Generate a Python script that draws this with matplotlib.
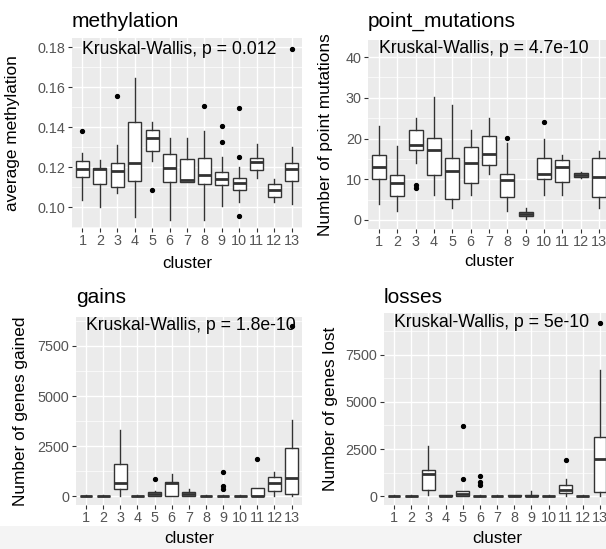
import numpy as np
import matplotlib
matplotlib.use("Agg")
import matplotlib.pyplot as plt
from matplotlib.patches import Rectangle

plt.rcParams['font.family'] = ['Liberation Sans', 'DejaVu Sans']

clusters = [str(i) for i in range(1, 14)]

# ---- methylation (box stats) ----
meth_whislo = [0.1037, 0.1003, 0.1070, 0.0953, 0.1232, 0.0937, 0.1125, 0.0937, 0.1007, 0.1028, 0.1145, 0.1028, 0.1017]
meth_q1     = [0.1153, 0.1115, 0.1103, 0.1133, 0.1282, 0.1128, 0.1125, 0.1117, 0.1112, 0.1087, 0.1187, 0.1052, 0.1133]
meth_med    = [0.1190, 0.1190, 0.1183, 0.1223, 0.1348, 0.1195, 0.1135, 0.1162, 0.1142, 0.1120, 0.1228, 0.1087, 0.1192]
meth_q3     = [0.1232, 0.1198, 0.1223, 0.1425, 0.1388, 0.1268, 0.1242, 0.1248, 0.1178, 0.1145, 0.1248, 0.1115, 0.1220]
meth_whishi = [0.1270, 0.1235, 0.1312, 0.1645, 0.1428, 0.1345, 0.1345, 0.1383, 0.1253, 0.1203, 0.1317, 0.1142, 0.1303]
meth_fliers = [[0.1382], [], [0.1558], [], [0.1085], [], [], [0.1507], [0.1408, 0.1328],
               [0.1495, 0.1250, 0.0958], [], [], [0.1790]]

# ---- point mutations ----
pm_whislo = [4.0, 2.2, 14.1, 6.1, 3.0, 6.1, 11.2, 2.2, 0.2, 6.1, 6.1, 10.3, 3.0]
pm_q1     = [10.0, 5.9, 17.1, 11.1, 5.2, 9.0, 13.5, 5.7, 1.0, 10.0, 9.4, 10.6, 5.7]
pm_med    = [13.1, 9.0, 18.3, 17.1, 12.0, 14.1, 16.1, 9.8, 1.4, 11.2, 13.1, 11.1, 10.6]
pm_q3     = [15.9, 11.1, 22.1, 20.1, 15.1, 18.0, 20.7, 11.4, 2.0, 15.1, 14.7, 11.5, 15.1]
pm_whishi = [23.1, 18.2, 25.0, 30.1, 28.2, 22.0, 25.0, 19.0, 2.9, 20.0, 16.0, 11.9, 17.0]
pm_fliers = [[], [], [8.6, 7.8], [], [], [], [], [20.2], [], [24.1], [], [], []]

# ---- gains ----
gain_whislo = [0, 0, 0, 0, 0, 0, 0, 0, 0, 0, 0, 33, 0]
gain_q1     = [0, 0, 367, 0, 0, 0, 0, 0, 0, 0, 0, 283, 133]
gain_med    = [5, 5, 650, 5, 117, 680, 100, 5, 10, 5, 33, 650, 917]
gain_q3     = [30, 30, 1600, 30, 200, 720, 217, 30, 40, 30, 400, 983, 2400]
gain_whishi = [60, 60, 3317, 60, 283, 1117, 350, 60, 80, 60, 400, 1233, 3817]
gain_fliers = [[], [], [], [], [867], [], [], [], [1200, 520, 380], [], [1867], [], [8500]]

# ---- losses ----
loss_whislo = [0, 0, 53, 0, 35, 0, 0, 0, 0, 0, 35, 0, 35]
loss_q1     = [0, 0, 319, 0, 35, 0, 0, 0, 0, 0, 177, 0, 230]
loss_med    = [5, 5, 1188, 10, 106, 20, 5, 10, 20, 5, 319, 10, 1950]
loss_q3     = [30, 30, 1365, 50, 284, 40, 30, 50, 60, 30, 620, 40, 3156]
loss_whishi = [60, 60, 2660, 80, 284, 80, 60, 80, 300, 60, 922, 80, 6684]
loss_fliers = [[], [], [], [], [3705, 922], [1064, 762, 620], [], [], [], [], [1897], [], [9190]]

titles = ["methylation", "point_mutations", "gains", "losses"]
ylabels = ["average methylation", "Number of point mutations",
           "Number of genes gained", "Number of genes lost"]
pvals = ["Kruskal-Wallis, p = 0.012", "Kruskal-Wallis, p = 4.7e-10",
         "Kruskal-Wallis, p = 1.8e-10", "Kruskal-Wallis, p = 5e-10"]
label_y = [0.179, 42, 8500, 9190]

meth_ticks = [0.10, 0.12, 0.14, 0.16, 0.18]
meth_ticklabels = ["0.10", "0.12", "0.14", "0.16", "0.18"]
pm_ticks = [0, 10, 20, 30, 40]
gene_ticks = [0, 2500, 5000, 7500]


def make_stats(lo, q1, med, q3, hi, fl):
    return [dict(whislo=a, q1=b, med=c, q3=d, whishi=e, fliers=f)
            for a, b, c, d, e, f in zip(lo, q1, med, q3, hi, fl)]


panels = [
    dict(stats=make_stats(meth_whislo, meth_q1, meth_med, meth_q3, meth_whishi, meth_fliers),
         ticks=meth_ticks, ticklabels=meth_ticklabels, ylim=(0.0896, 0.1846),
         rect=[72 / 606, 1 - 228 / 549, 230 / 606, 190 / 549],
         ylab_x=-0.225, title_y=1.059, xlab_y=-0.145),
    dict(stats=make_stats(pm_whislo, pm_q1, pm_med, pm_q3, pm_whishi, pm_fliers),
         ticks=pm_ticks, ticklabels=[str(t) for t in pm_ticks], ylim=(-2.1, 44.2),
         rect=[368 / 606, 1 - 228.5 / 549, 242 / 606, 188.5 / 549],
         ylab_x=-0.145, title_y=1.071, xlab_y=-0.135),
    dict(stats=make_stats(gain_whislo, gain_q1, gain_med, gain_q3, gain_whishi, gain_fliers),
         ticks=gene_ticks, ticklabels=[str(t) for t in gene_ticks], ylim=(-430, 8940),
         rect=[75.7 / 606, 1 - 505 / 549, 226.2 / 606, 188 / 549],
         ylab_x=-0.211, title_y=1.073, xlab_y=-0.138),
    dict(stats=make_stats(loss_whislo, loss_q1, loss_med, loss_q3, loss_whishi, loss_fliers),
         ticks=gene_ticks, ticklabels=[str(t) for t in gene_ticks], ylim=(-460, 9680),
         rect=[383.7 / 606, 1 - 505 / 549, 226.6 / 606, 191.7 / 549],
         ylab_x=-0.202, title_y=1.052, xlab_y=-0.136),
]

fig = plt.figure(figsize=(6.06, 5.49), dpi=100)
# faint grey band at the very bottom of the screenshot
fig.patches.append(Rectangle((0, 0), 1, 1 - 526 / 549, transform=fig.transFigure,
                             facecolor="#f4f4f4", edgecolor="none", zorder=-1))

box_col = "#333333"
for i, p in enumerate(panels):
    ax = fig.add_axes(p["rect"])
    ax.set_facecolor("#EBEBEB")
    for s in ax.spines.values():
        s.set_visible(False)

    ax.bxp(p["stats"], positions=range(1, 14), widths=0.75, patch_artist=True,
           boxprops=dict(facecolor="white", edgecolor=box_col, linewidth=1.0),
           medianprops=dict(color=box_col, linewidth=2.0),
           whiskerprops=dict(color=box_col, linewidth=1.0),
           capprops=dict(linewidth=0),
           flierprops=dict(marker="o", markersize=2.8, markerfacecolor="black",
                           markeredgecolor="black"),
           showcaps=False, zorder=3)

    ax.set_xlim(0.4, 13.6)
    ax.set_ylim(*p["ylim"])
    ax.set_xticks(range(1, 14))
    ax.set_xticklabels(clusters)
    ax.set_yticks(p["ticks"])
    ax.set_yticklabels(p["ticklabels"])
    t = p["ticks"]
    step = t[1] - t[0]
    minors = [v + step / 2 for v in [t[0] - step] + list(t)]
    minors = [m for m in minors if p["ylim"][0] < m < p["ylim"][1]]
    ax.set_yticks(minors, minor=True)

    ax.grid(which="major", color="white", linewidth=1.0, zorder=0)
    ax.grid(which="minor", axis="y", color="white", linewidth=0.5, zorder=0)
    ax.set_axisbelow(True)
    ax.tick_params(which="major", length=3, width=0.8, color="#333333",
                   labelcolor="#555555", labelsize=10.4, pad=1.5)
    ax.tick_params(which="minor", length=0)

    ax.set_xlabel("cluster", fontsize=12.2)
    ax.xaxis.set_label_coords(0.5, p["xlab_y"])
    ax.set_ylabel(ylabels[i], fontsize=12.4)
    ax.yaxis.set_label_coords(p["ylab_x"], 0.5)
    ax.text(0, p["title_y"], titles[i], transform=ax.transAxes, fontsize=15,
            ha="left", va="baseline")
    ax.text(1, label_y[i], pvals[i], fontsize=12.7, ha="left", va="center", zorder=5)

fig.savefig("out.png", dpi=100)
